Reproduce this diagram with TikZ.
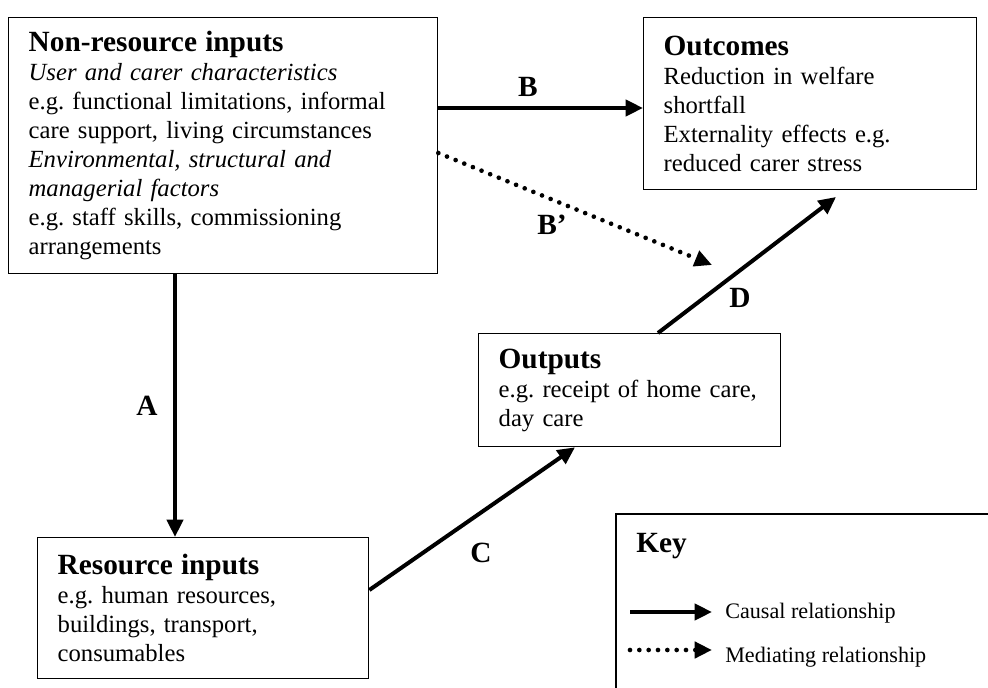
\documentclass[tikz,border=0pt]{standalone}
\usepackage{fontspec}
\setmainfont{Liberation Serif}
\usetikzlibrary{arrows.meta}

\newcommand{\bodysize}{\fontsize{18.5}{21.75}\selectfont\frenchspacing}
\newcommand{\headsize}{\fontsize{22}{26}\selectfont\bfseries}
\newcommand{\keysize}{\fontsize{16.6}{20}\selectfont}

\tikzset{
  stagebox/.style={draw, line width=1pt, anchor=north west, align=left,
    inner xsep=15pt, inner ysep=0pt, font=\bodysize},
  causal/.style={line width=3pt, -{Triangle[length=13pt,width=12pt]}},
  mediating/.style={line width=3.5pt, line cap=round, dash pattern=on 0pt off 7pt,
    -{Triangle[length=13pt,width=12pt]}},
  linklabel/.style={font=\headsize, inner sep=0pt},
}

\begin{document}
\frenchspacing
\begin{tikzpicture}[x=0.75pt,y=0.75pt,yscale=-1,xscale=1]
\useasboundingbox (0,0) rectangle (988,688);
\clip (0,0) rectangle (988,688);

%Boxes
\node [stagebox, text width=291.75pt, minimum height=192pt] (nonres) at (8,17)
  {{\headsize Non-resource inputs}\\
   \textit{User and carer characteristics}\\
   e.g. functional limitations, informal\\
   care support, living circumstances\\
   \textit{Environmental, structural and}\\
   \textit{managerial factors}\\
   e.g. staff skills, commissioning\\
   arrangements};
\node [stagebox, text width=219.75pt, minimum height=129pt] (outcomes) at (643,17)
  {{\headsize Outcomes}\\
   Reduction in welfare\\
   shortfall\\
   Externality effects e.g.\\
   reduced carer stress};
\node [stagebox, text width=196.5pt, minimum height=84.75pt] (outputs) at (478,333)
  {{\headsize Outputs}\\
   e.g. receipt of home care,\\
   day care};
\node [stagebox, text width=218.25pt, minimum height=105.75pt] (resource) at (37,537)
  {{\headsize Resource inputs}\\
   e.g. human resources,\\
   buildings, transport,\\
   consumables};

%Connector points
\coordinate (acol) at (175,0);
\coordinate (brow) at (0,108);
\coordinate (bdrow) at (0,153);
\coordinate (bdend) at (712,265);
\coordinate (crow) at (0,590);
\coordinate (cend) at (575,0);
\coordinate (dstart) at (658,0);
\coordinate (dend) at (836,197);

%Links
\draw [causal] (nonres.south -| acol) -- (resource.north -| acol);
\draw [causal] (nonres.east |- brow) -- (outcomes.west |- brow);
\draw [mediating] (nonres.east |- bdrow) -- (bdend);
\draw [causal] (resource.east |- crow) -- (outputs.south -| cend);
\draw [causal] (outputs.north -| dstart) -- (dend);

%Link labels
\node [linklabel] (labA) at (147,406) {A};
\node [linklabel] (labB) at (528,87) {B};
\node [linklabel] (labBd) at (552,225) {B’};
\node [linklabel] (labC) at (481,553) {C};
\node [linklabel] (labD) at (740,298) {D};

%Key
\draw [line width=1pt] (616,514) rectangle (1000,700);
\node [anchor=base west, inner sep=0pt, font=\headsize] (keytitle) at (636,552) {Key};
\coordinate (causalA) at (630,612);
\coordinate (causalB) at (712,612);
\coordinate (mediatingA) at (630,650);
\coordinate (mediatingB) at (712,650);
\draw [causal] (causalA) -- (causalB);
\draw [mediating] (mediatingA) -- (mediatingB);
\node [anchor=west, inner sep=0pt, font=\keysize] (causaltext) at (725,613) {Causal relationship};
\node [anchor=west, inner sep=0pt, font=\keysize] (mediatingtext) at (725,657) {Mediating relationship};

\end{tikzpicture}
\end{document}
